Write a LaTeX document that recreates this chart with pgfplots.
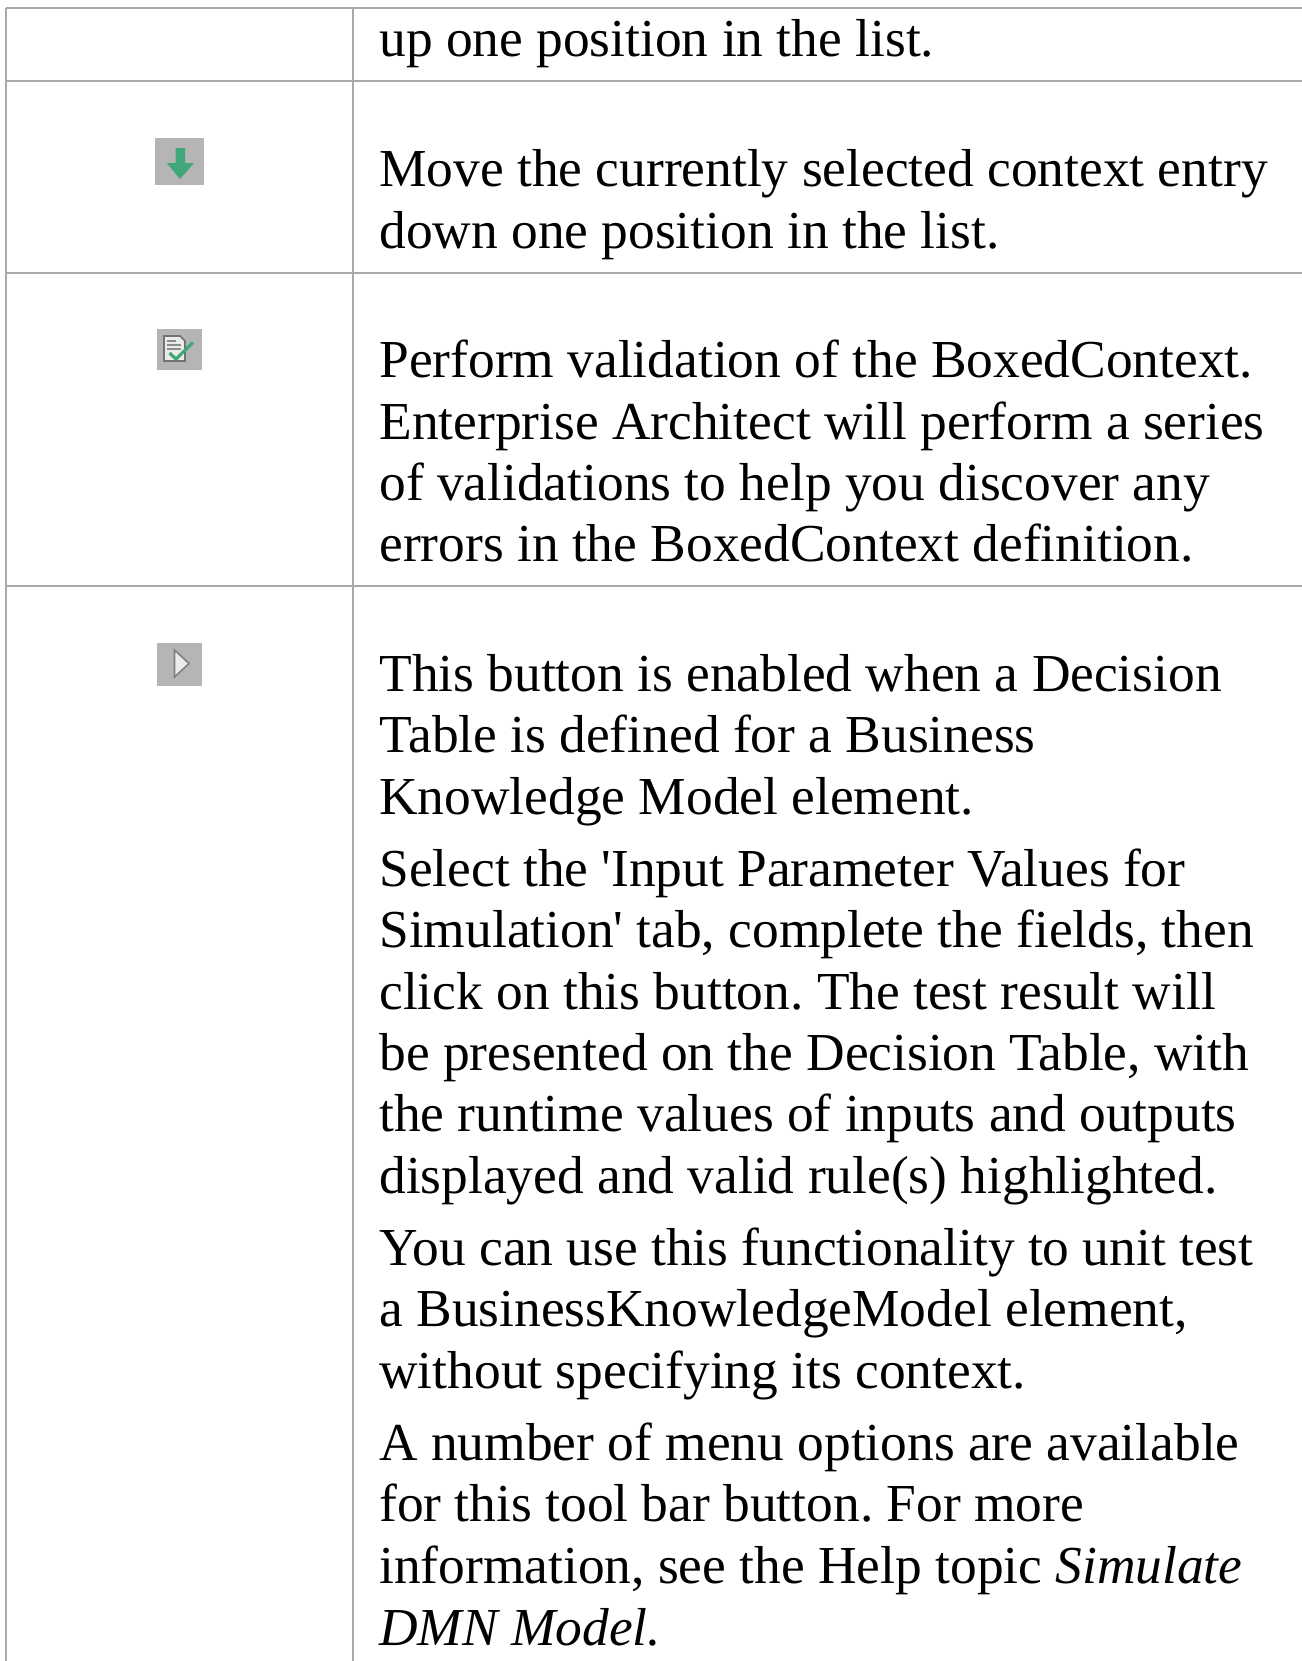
\documentclass[border=0pt]{standalone}
\usepackage{fontspec}
\setmainfont{Liberation Serif}
\newfontface\sq{Liberation Serif}
\usepackage{pgfplots}
\pgfplotsset{compat=1.18}
\definecolor{rule}{HTML}{A9A9A9}
\definecolor{box}{HTML}{B5B5B5}
\definecolor{grn}{HTML}{3FA77A}
\newcommand{\TL}[3]{\node[anchor=base west,inner sep=0pt,font=\fontsize{26.7pt}{30pt}\selectfont\frenchspacing,text=black] at (axis cs:#1,#2) {#3};}
\begin{document}
\begin{tikzpicture}
\useasboundingbox (0,0) rectangle (651pt,830.5pt);
\begin{axis}[
  width=651pt,height=830.5pt,scale only axis,
  xmin=0,xmax=1302,ymin=0,ymax=1661,y dir=reverse,
  axis lines=none,clip=true]
% table rules
\addplot[rule,line width=1.1pt] coordinates {(5.5,8) (1302,8)};
\addplot[rule,line width=1.3pt] coordinates {(5.5,81) (1302,81)};
\addplot[rule,line width=1.3pt] coordinates {(5.5,273) (1302,273)};
\addplot[rule,line width=1.3pt] coordinates {(5.5,586) (1302,586)};
\addplot[rule,line width=1pt] coordinates {(5.5,8) (5.5,1661)};
\addplot[rule,line width=1pt] coordinates {(353,8) (353,1661)};
% icon: down arrow
\addplot[box,fill=box,draw=none] coordinates {(155,138) (204,138) (204,185) (155,185)} --cycle;
\addplot[grn,fill=grn,draw=none] coordinates {(175.7,148) (185,148) (185,163) (194,163) (180,179) (166.7,163) (175.7,163)} --cycle;
% icon: validate
\addplot[box,fill=box,draw=none] coordinates {(157,329) (202,329) (202,370) (157,370)} --cycle;
\addplot[draw=black!55,fill=black!8,line width=0.8pt] coordinates {(164,336) (180,336) (185,341) (185,361) (164,361)} --cycle;
\addplot[black!45,line width=0.6pt] coordinates {(167,341) (176,341)};
\addplot[black!45,line width=0.6pt] coordinates {(167,345) (181,345)};
\addplot[black!45,line width=0.6pt] coordinates {(167,349) (181,349)};
\addplot[grn,line width=1.6pt] coordinates {(169.5,353) (176,359) (193,342.5)};
% icon: run
\addplot[box,fill=box,draw=none] coordinates {(157,643) (202,643) (202,686) (157,686)} --cycle;
\addplot[draw=black!50,fill=black!8,line width=0.8pt] coordinates {(174.5,650) (174.5,677) (189,663.5)} --cycle;
% text
\TL{379}{56}{up one position in the list.}
\TL{379}{186.5}{Move the currently selected context entry}
\TL{379}{248}{down one position in the list.}
\TL{379}{377}{Perform validation of the BoxedContext.}
\TL{379}{439}{Enterprise Architect will perform a series}
\TL{379}{500}{of validations to help you discover any}
\TL{379}{561.5}{errors in the BoxedContext definition.}
\TL{379}{691}{This button is enabled when a Decision}
\TL{379}{752}{Table is defined for a Business}
\TL{379}{814}{Knowledge Model element.}
\TL{379}{886}{Select the {\sq '}Input Parameter Values for}
\TL{379}{947}{Simulation{\sq '} tab, complete the fields, then}
\TL{379}{1009}{click on this button. The test result will}
\TL{379}{1070}{be presented on the Decision Table, with}
\TL{379}{1131.5}{the runtime values of inputs and outputs}
\TL{379}{1193}{displayed and valid rule(s) highlighted.}
\TL{379}{1265}{You can use this functionality to unit test}
\TL{379}{1326.5}{a BusinessKnowledgeModel element,}
\TL{379}{1388}{without specifying its context.}
\TL{379}{1460}{A number of menu options are available}
\TL{379}{1521}{for this tool bar button. For more}
\TL{379}{1583}{information, see the Help topic \textit{Simulate}}
\TL{379}{1645}{\textit{DMN Model.}}
\end{axis}
\end{tikzpicture}
\end{document}
